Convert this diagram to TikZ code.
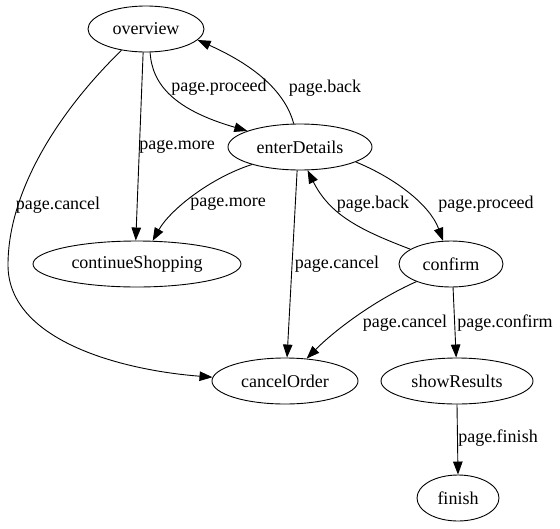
\documentclass[tikz,border=0pt]{standalone}
\usepackage{fontspec}
\setmainfont{Liberation Serif}
\usetikzlibrary{shapes.geometric,arrows.meta}
\begin{document}
\begin{tikzpicture}[x=1pt,y=-1pt,
  state/.style={ellipse,draw,line width=0.9pt,inner sep=0pt,minimum height=46pt,font=\fontsize{18}{22}\selectfont},
  lbl/.style={inner sep=0pt,font=\fontsize{18}{22}\selectfont},
  edge/.style={draw,line width=0.9pt,-{Triangle[length=13pt,width=9.5pt]}}]
\useasboundingbox (0,0) rectangle (560,528);
\node[state,minimum width=116pt] (overview) at (146,29) {overview};
\node[state,minimum width=144pt] (enterDetails) at (300,147) {enterDetails};
\node[state,minimum width=208pt] (continueShopping) at (137,264) {continueShopping};
\node[state,minimum width=104pt] (confirm) at (451,264) {confirm};
\node[state,minimum width=146pt] (cancelOrder) at (285,381) {cancelOrder};
\node[state,minimum width=152pt] (showResults) at (457,381) {showResults};
\node[state,minimum width=82pt] (finish) at (458,498) {finish};

\draw[edge] (overview.-80) .. controls (152,85) and (175,110) .. (enterDetails.163);
\draw[edge] (enterDetails.105) .. controls (286,95) and (260,68) .. (overview.-12);
\draw[edge] (overview.-97) -- (continueShopping.93);
\coordinate (leftmost) at (8,265);
\draw[edge] (overview.-139) .. controls (60,110) and (8,190) .. (leftmost) .. controls (8,340) and (120,370) .. (cancelOrder.177);
\draw[edge] (enterDetails.-160) .. controls (210,178) and (170,210) .. (continueShopping.56);
\draw[edge] (enterDetails.-97) -- (cancelOrder.85);
\draw[edge] (enterDetails.-15) .. controls (395,178) and (430,205) .. (confirm.109);
\draw[edge] (confirm.160) .. controls (360,230) and (330,215) .. (enterDetails.-72);
\draw[edge] (confirm.-153) .. controls (375,300) and (335,330) .. (cancelOrder.46);
\draw[edge] (confirm.-85) -- (showResults.92);
\draw[edge] (showResults.-90) -- (finish.90);

\node[lbl] (l1) at (219,87) {page.proceed};
\node[lbl] (l2) at (325,88) {page.back};
\node[lbl] (l3) at (177,147) {page.more};
\node[lbl] (l4) at (58,205) {page.cancel};
\node[lbl] (l5) at (228,204) {page.more};
\node[lbl] (l6) at (337,264) {page.cancel};
\node[lbl] (l7) at (486,204) {page.proceed};
\node[lbl] (l8) at (373,204) {page.back};
\node[lbl] (l9) at (405,323) {page.cancel};
\node[lbl] (l10) at (505,323) {page.confirm};
\node[lbl] (l11) at (498,438) {page.finish};
\end{tikzpicture}
\end{document}
